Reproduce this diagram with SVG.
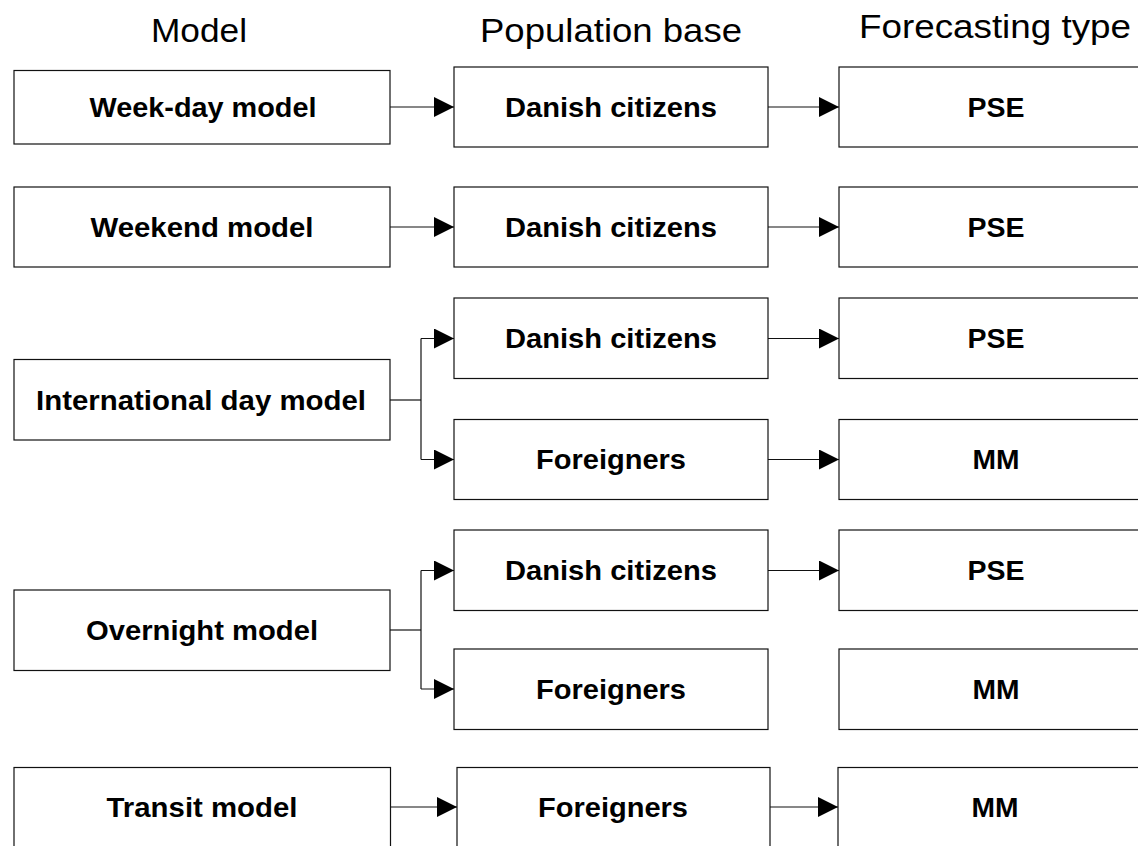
<svg xmlns="http://www.w3.org/2000/svg" width="1138" height="846" viewBox="0 0 1138 846">
<style>
.box{fill:#fff;stroke:#111;stroke-width:1.2}
.lbl{font-family:"Liberation Sans",Arial,sans-serif;font-weight:bold;font-size:27px;fill:#000;text-anchor:middle}
.hdr{font-family:"Liberation Sans",Arial,sans-serif;font-size:33px;fill:#000;text-anchor:middle}
.con{fill:none;stroke:#111;stroke-width:1.2}
</style>
<defs>
<marker id="arr" markerUnits="userSpaceOnUse" markerWidth="20" markerHeight="20" refX="20" refY="10" orient="auto">
<path d="M0,0 L20,10 L0,20 z" fill="#000"/>
</marker>
</defs>
<rect width="1138" height="846" fill="#fff"/>
<g id="headers">
<text class="hdr" x="199" y="42" textLength="96" lengthAdjust="spacingAndGlyphs">Model</text>
<text class="hdr" x="611" y="42" textLength="262" lengthAdjust="spacingAndGlyphs">Population base</text>
<text class="hdr" x="995" y="38" textLength="272" lengthAdjust="spacingAndGlyphs">Forecasting type</text>
</g>
<g id="connectors">
<path class="con" d="M390,107 H454" marker-end="url(#arr)"/>
<path class="con" d="M768,107 H839" marker-end="url(#arr)"/>
<path class="con" d="M390,227 H454" marker-end="url(#arr)"/>
<path class="con" d="M768,227 H839" marker-end="url(#arr)"/>
<path class="con" d="M390,400 H421"/>
<path class="con" d="M421,338.5 V459.5"/>
<path class="con" d="M421,338.5 H454" marker-end="url(#arr)"/>
<path class="con" d="M421,459.5 H454" marker-end="url(#arr)"/>
<path class="con" d="M768,338.5 H839" marker-end="url(#arr)"/>
<path class="con" d="M768,459.5 H839" marker-end="url(#arr)"/>
<path class="con" d="M390,630 H421"/>
<path class="con" d="M421,570.5 V689"/>
<path class="con" d="M421,570.5 H454" marker-end="url(#arr)"/>
<path class="con" d="M421,689 H454" marker-end="url(#arr)"/>
<path class="con" d="M768,570.5 H839" marker-end="url(#arr)"/>
<path class="con" d="M390.5,807 H457" marker-end="url(#arr)"/>
<path class="con" d="M770,807 H838" marker-end="url(#arr)"/>
</g>
<g id="weekday-model"><rect class="box" x="14" y="70.5" width="376" height="73.5"/><text class="lbl" x="203" y="116.5" textLength="227" lengthAdjust="spacingAndGlyphs">Week-day model</text></g>
<g id="weekday-pop"><rect class="box" x="454" y="67" width="314" height="80"/><text class="lbl" x="611" y="116.5" textLength="212" lengthAdjust="spacingAndGlyphs">Danish citizens</text></g>
<g id="weekday-type"><rect class="box" x="839" y="67" width="314" height="80"/><text class="lbl" x="996" y="116.5" textLength="57" lengthAdjust="spacingAndGlyphs">PSE</text></g>

<g id="weekend-model"><rect class="box" x="14" y="187" width="376" height="80"/><text class="lbl" x="202" y="236.5" textLength="223" lengthAdjust="spacingAndGlyphs">Weekend model</text></g>
<g id="weekend-pop"><rect class="box" x="454" y="187" width="314" height="80"/><text class="lbl" x="611" y="236.5" textLength="212" lengthAdjust="spacingAndGlyphs">Danish citizens</text></g>
<g id="weekend-type"><rect class="box" x="839" y="187" width="314" height="80"/><text class="lbl" x="996" y="236.5" textLength="57" lengthAdjust="spacingAndGlyphs">PSE</text></g>

<g id="intl-model"><rect class="box" x="14" y="359.5" width="376" height="80.5"/><text class="lbl" x="201" y="409.5" textLength="330" lengthAdjust="spacingAndGlyphs">International day model</text></g>
<g id="intl-pop-dk"><rect class="box" x="454" y="298" width="314" height="80.5"/><text class="lbl" x="611" y="347.5" textLength="212" lengthAdjust="spacingAndGlyphs">Danish citizens</text></g>
<g id="intl-type-dk"><rect class="box" x="839" y="298" width="314" height="80.5"/><text class="lbl" x="996" y="347.5" textLength="57" lengthAdjust="spacingAndGlyphs">PSE</text></g>
<g id="intl-pop-fr"><rect class="box" x="454" y="419.5" width="314" height="80"/><text class="lbl" x="611" y="468.5" textLength="150" lengthAdjust="spacingAndGlyphs">Foreigners</text></g>
<g id="intl-type-fr"><rect class="box" x="839" y="419.5" width="314" height="80"/><text class="lbl" x="996" y="468.5" textLength="47" lengthAdjust="spacingAndGlyphs">MM</text></g>

<g id="overnight-model"><rect class="box" x="14" y="590" width="376" height="80.5"/><text class="lbl" x="202" y="640" textLength="232" lengthAdjust="spacingAndGlyphs">Overnight model</text></g>
<g id="overnight-pop-dk"><rect class="box" x="454" y="530" width="314" height="80.5"/><text class="lbl" x="611" y="580" textLength="212" lengthAdjust="spacingAndGlyphs">Danish citizens</text></g>
<g id="overnight-type-dk"><rect class="box" x="839" y="530" width="314" height="80.5"/><text class="lbl" x="996" y="580" textLength="57" lengthAdjust="spacingAndGlyphs">PSE</text></g>
<g id="overnight-pop-fr"><rect class="box" x="454" y="649" width="314" height="80.5"/><text class="lbl" x="611" y="698.5" textLength="150" lengthAdjust="spacingAndGlyphs">Foreigners</text></g>
<g id="overnight-type-fr"><rect class="box" x="839" y="649" width="314" height="80.5"/><text class="lbl" x="996" y="698.5" textLength="47" lengthAdjust="spacingAndGlyphs">MM</text></g>

<g id="transit-model"><rect class="box" x="14" y="767.5" width="376.5" height="90"/><text class="lbl" x="202" y="817" textLength="191" lengthAdjust="spacingAndGlyphs">Transit model</text></g>
<g id="transit-pop"><rect class="box" x="457" y="767.5" width="313" height="90"/><text class="lbl" x="613" y="817" textLength="150" lengthAdjust="spacingAndGlyphs">Foreigners</text></g>
<g id="transit-type"><rect class="box" x="838" y="767.5" width="314" height="90"/><text class="lbl" x="995" y="817" textLength="47" lengthAdjust="spacingAndGlyphs">MM</text></g>
</svg>
